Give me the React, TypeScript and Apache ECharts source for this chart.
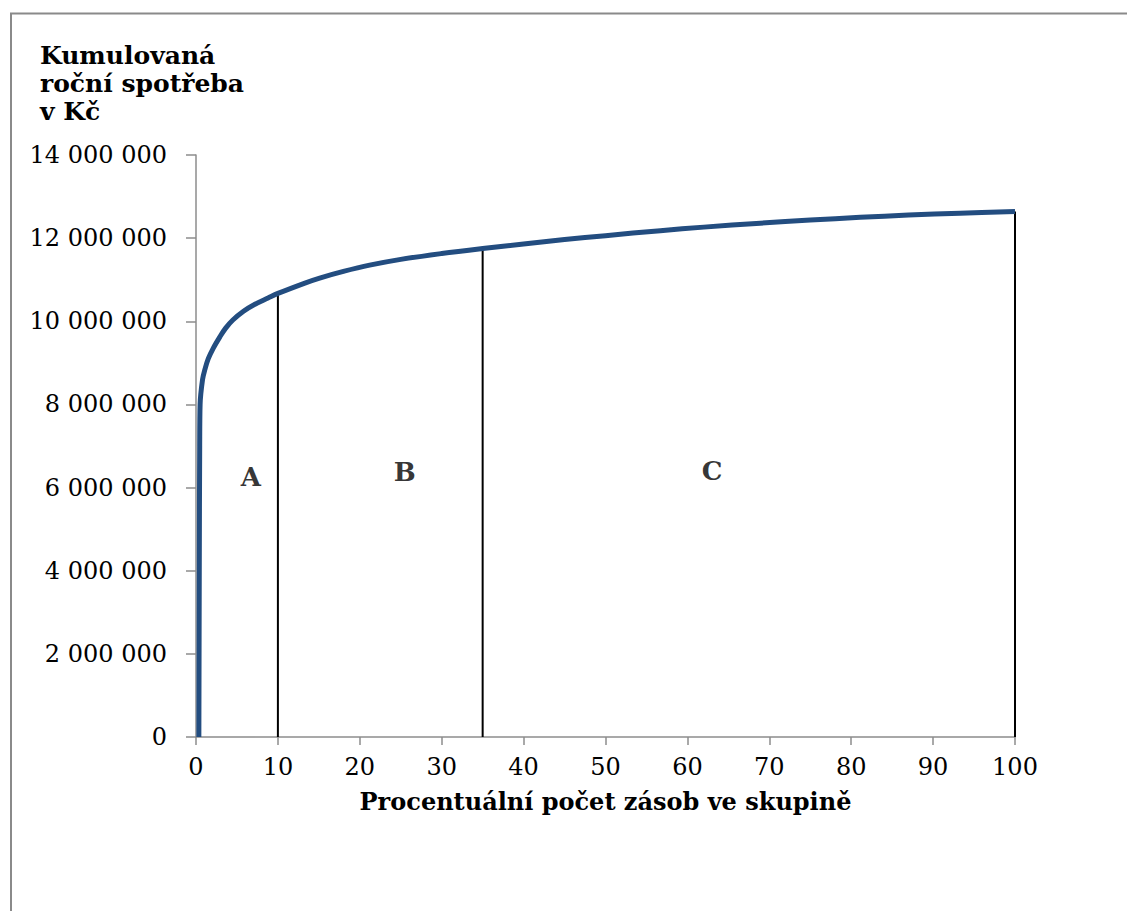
import React, { useEffect, useRef } from "react";
import * as echarts from "echarts";

// Cumulative curve: x = % of stock items, y = cumulative annual consumption (CZK)
const curveX = [0.35, 0.4, 0.45, 0.5, 0.8, 1.1, 1.5, 2.1, 2.9, 3.6, 4.5, 5.8, 7.2, 8.8, 10, 13.3, 15.1, 18, 21.2, 25, 30, 35, 40, 45, 50, 56.7, 62, 68.9, 75, 81.1, 87, 93.3, 100];
const curveY = [0, 4000000, 7000000, 8000000, 8600000, 8850000, 9100000, 9350000, 9620000, 9830000, 10030000, 10240000, 10410000, 10560000, 10670000, 10920000, 11040000, 11200000, 11350000, 11490000, 11630000, 11750000, 11860000, 11965000, 12060000, 12180000, 12265000, 12360000, 12435000, 12500000, 12555000, 12600000, 12640000];

// Group boundaries (vertical lines) and their top values
const boundaryX = [10, 35, 100];
const boundaryTop = [10670000, 11750000, 12640000];

// Group labels
const groupNames = ["A", "B", "C"];
const groupX = [6.7, 25.5, 63];
const groupY = [6250000, 6370000, 6400000];

const xTicks = { min: 0, max: 100, interval: 10 };
const yTicks = { min: 0, max: 14000000, interval: 2000000 };

const FONT = "DejaVu Serif";

function fmt(v: number): string {
  return String(Math.round(v)).replace(/\B(?=(\d{3})+(?!\d))/g, " ");
}

export default function App() {
  const ref = useRef<HTMLDivElement>(null);
  useEffect(() => {
    if (!ref.current) return;
    const chart = echarts.init(ref.current, null, { renderer: "svg" });
    const boundarySeries = boundaryX.map((bx, i) => ({
      type: "line",
      data: [
        [bx, 0],
        [bx, boundaryTop[i]],
      ],
      symbol: "none",
      lineStyle: { color: "#000000", width: 2 },
      z: 1,
      silent: true,
    }));
    chart.setOption({
      animation: false,
      backgroundColor: "#ffffff",
      title: {
        text: "Kumulovaná\nroční spotřeba\nv Kč",
        left: 35,
        top: 36,
        textStyle: {
          fontFamily: FONT,
          fontWeight: "bold",
          fontSize: 25,
          lineHeight: 28,
          color: "#000000",
        },
      },
      graphic: [
        {
          type: "polyline",
          shape: { points: [[11, 1000], [11, 13.5], [1200, 13.5]] },
          style: { stroke: "#8a8a8a", lineWidth: 2, fill: null },
          silent: true,
        },
      ],
      grid: { left: 196, right: 112, top: 155, bottom: 174, containLabel: false },
      xAxis: {
        type: "value",
        min: xTicks.min,
        max: xTicks.max,
        interval: xTicks.interval,
        name: "Procentuální počet zásob ve skupině",
        nameLocation: "middle",
        nameGap: 52,
        nameTextStyle: { fontFamily: FONT, fontWeight: "bold", fontSize: 24, color: "#000000" },
        axisLine: { show: true, lineStyle: { color: "#8c8c8c", width: 1.5 } },
        axisTick: { show: true, length: 8, lineStyle: { color: "#8c8c8c", width: 1.5 } },
        axisLabel: { fontFamily: FONT, fontSize: 24, color: "#000000", margin: 18 },
        splitLine: { show: false },
      },
      yAxis: {
        type: "value",
        min: yTicks.min,
        max: yTicks.max,
        interval: yTicks.interval,
        axisLine: { show: true, lineStyle: { color: "#8c8c8c", width: 1.5 } },
        axisTick: { show: true, length: 10, lineStyle: { color: "#8c8c8c", width: 1.5 } },
        axisLabel: { fontFamily: FONT, fontSize: 24, color: "#000000", margin: 29, formatter: (v: number) => fmt(v) },
        splitLine: { show: false },
      },
      series: [
        ...boundarySeries,
        {
          type: "line",
          data: curveX.map((x, i) => [x, curveY[i]]),
          symbol: "none",
          smooth: 0.35,
          lineStyle: { color: "#234d80", width: 5 },
          z: 3,
        },
        {
          type: "scatter",
          data: groupNames.map((n, i) => ({ name: n, value: [groupX[i], groupY[i]] })),
          symbolSize: 1,
          itemStyle: { color: "rgba(255,255,255,0)" },
          label: {
            show: true,
            position: "inside",
            formatter: (p: any) => p.name,
            fontFamily: FONT,
            fontWeight: "bold",
            fontSize: 26,
            color: "#000000",
            textBorderWidth: 0,
          },
          silent: true,
          z: 4,
        },
      ],
    });
    return () => chart.dispose();
  }, []);
  return (
    <div
      ref={ref}
      style={{ position: "absolute", left: 0, top: 0, width: 1127, height: 911 }}
    />
  );
}
